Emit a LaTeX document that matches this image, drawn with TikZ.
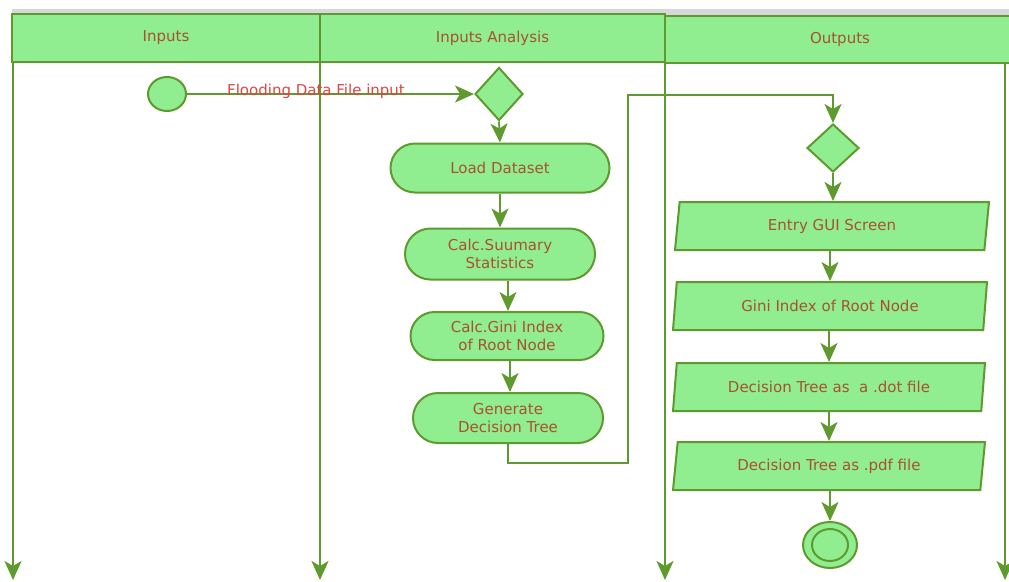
\documentclass[tikz,border=0pt]{standalone}
\usepackage{fontspec}
\setmainfont{DejaVu Sans}
\usetikzlibrary{shapes.geometric,shapes.misc,arrows.meta,calc}
\definecolor{fillg}{HTML}{90EE90}
\definecolor{lineg}{HTML}{5E9A2E}
\definecolor{txtc}{HTML}{A8522A}
\definecolor{redc}{HTML}{E04444}
\definecolor{topgray}{HTML}{D6D6DC}
\begin{document}
\begin{tikzpicture}[x=1pt,y=-1pt,
  every node/.style={font=\fontsize{15}{18.5}\selectfont, text=txtc, align=center},
  hdr/.style={draw=lineg, line width=1.8pt, fill=fillg, rectangle, inner sep=0pt},
  stad/.style={draw=lineg, line width=2pt, fill=fillg, rounded rectangle, inner sep=0pt},
  dia/.style={draw=lineg, line width=2pt, fill=fillg, diamond, inner sep=0pt},
  para/.style={draw=lineg, line width=2pt, fill=fillg, trapezium, trapezium left angle=72, trapezium right angle=108, trapezium stretches body, inner sep=0pt, minimum height=48pt},
  tip/.style={-{Stealth[length=19pt,width=17pt,inset=5pt]}},
  conn/.style={draw=lineg, line width=1.8pt, tip},
  lane/.style={draw=lineg, line width=2pt, tip}
]
\useasboundingbox (0,0) rectangle (1009,581);
\fill[topgray] (12,9) rectangle (1009,15);
% headers
\node[hdr, minimum width=308pt, minimum height=48pt] (h1) at (166,38) {Inputs};
\node[hdr, minimum width=345pt, minimum height=48pt] (h2) at (492.5,38) {Inputs Analysis};
\node[hdr, minimum width=350pt, minimum height=47pt] (h3) at (840,39.5) {Outputs};
% lane lines
\coordinate (l1a) at (13,62); \coordinate (l1b) at (13,580);
\coordinate (l2a) at (320,14); \coordinate (l2b) at (320,580);
\coordinate (l3a) at (665,14); \coordinate (l3b) at (665,580);
\coordinate (l4a) at (1005,63); \coordinate (l4b) at (1005,580);
\draw[lane] (l1a) -- (l1b);
\draw[lane] (l2a) -- (l2b);
\draw[lane] (l3a) -- (l3b);
\draw[lane] (l4a) -- (l4b);
% nodes
\node[draw=lineg, line width=2pt, fill=fillg, ellipse, minimum width=38pt, minimum height=34pt, inner sep=0pt] (start) at (167,94) {};
\node[dia, minimum width=48pt, minimum height=53pt] (d1) at (499,94) {};
\node[stad, minimum width=219pt, minimum height=49pt] (load) at (500,168) {Load Dataset};
\node[stad, minimum width=190pt, minimum height=51pt] (calc) at (500,254) {Calc.Suumary\\Statistics};
\node[stad, minimum width=193pt, minimum height=48pt] (gini) at (507,336) {Calc.Gini Index\\of Root Node};
\node[stad, minimum width=190pt, minimum height=50pt] (gen) at (508,418) {Generate\\Decision Tree};
\node[dia, minimum width=52pt, minimum height=48pt] (d2) at (833,148) {};
\node[para, minimum width=314pt] (gui) at (832,226) {Entry GUI Screen};
\node[para, minimum width=314pt] (gidx) at (830,306) {Gini Index of Root Node};
\node[para, minimum width=312pt] (dot) at (829,387) {Decision Tree as \ a .dot file};
\node[para, minimum width=312pt] (pdf) at (829,466) {Decision Tree as .pdf file};
\node[draw=lineg, line width=2pt, fill=fillg, ellipse, minimum width=54pt, minimum height=46pt, inner sep=0pt] (end) at (830,545) {};
\node[draw=lineg, line width=2pt, fill=fillg, ellipse, minimum width=36pt, minimum height=32pt, inner sep=0pt] (endin) at (830,545) {};
% connectors
\draw[conn] (start.east) -- (d1.west);
\node[text=redc, anchor=base] (flab) at (316,95) {Flooding Data File input};
\draw[conn] (d1.south) -- (load.north);
\draw[conn] (load.south) -- (calc.north);
\draw[conn] (calc.south -| 508,0) -- (508,0 |- gini.north);
\draw[conn] (gini.south -| 510,0) -- (510,0 |- gen.north);
\coordinate (c1) at (628,463);
\coordinate (c2) at (628,95);
\draw[conn] (gen.south) |- (c1) -- (c2) -| (d2.north);
\draw[conn] (d2.south) -- (d2.south |- gui.north);
\draw[conn] (gui.south -| 830,0) -- (830,0 |- gidx.north);
\draw[conn] (gidx.south -| 829,0) -- (829,0 |- dot.north);
\draw[conn] (dot.south -| 829,0) -- (829,0 |- pdf.north);
\draw[conn] (pdf.south -| 830,0) -- (end.north);
\end{tikzpicture}
\end{document}
